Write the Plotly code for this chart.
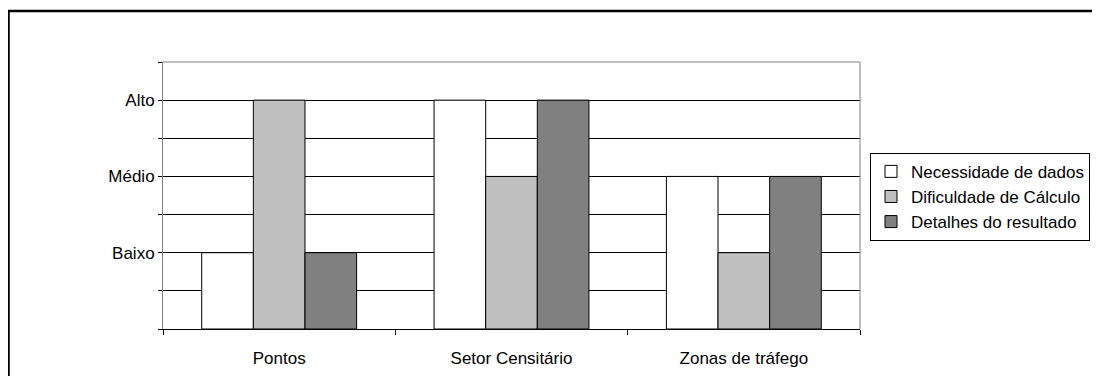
import plotly.graph_objects as go

categories = ["Pontos", "Setor Censitário", "Zonas de tráfego"]
series_names = ["Necessidade de dados", "Dificuldade de Cálculo", "Detalhes do resultado"]
necessidade = [1, 3, 2]
dificuldade = [3, 2, 1]
detalhes = [1, 3, 2]
series_values = [necessidade, dificuldade, detalhes]
series_colors = ["#FFFFFF", "#C0C0C0", "#808080"]

y_tickvals = [0, 0.5, 1, 1.5, 2, 2.5, 3, 3.5]
y_ticktext = ["", "", "Baixo", "", "Médio", "", "Alto", ""]

FONT = "Arial, Liberation Sans, sans-serif"
FS = 17

fig = go.Figure()
for name, vals, col in zip(series_names, series_values, series_colors):
    fig.add_trace(go.Bar(
        x=categories, y=vals, name=name,
        marker=dict(color=col, line=dict(color="#000000", width=1)),
    ))

# page body has an 8px margin; figure coordinates below are page - 8
W, H = 1092, 368
L, T = 155, 54
PR, PB = 852, 321.5
R, B = W - PR, H - PB
pw, ph = PR - L, PB - T


def px(xf):
    return (xf - L) / pw


def py(yf):
    return (PB - yf) / ph


fig.update_layout(
    width=W, height=H,
    margin=dict(l=L, r=R, t=T, b=B, pad=0, autoexpand=False),
    paper_bgcolor="white", plot_bgcolor="white",
    barmode="group", bargap=1/3, bargroupgap=0,
    font=dict(family=FONT, size=FS, color="#000000"),
    showlegend=True,
    legend=dict(
        x=px(862), y=py(145), xanchor="left", yanchor="top",
        bgcolor="white", bordercolor="#000000", borderwidth=1,
        font=dict(family=FONT, size=FS, color="#000000"),
        tracegroupgap=0, traceorder="normal",
    ),
    xaxis=dict(
        showline=True, linecolor="#000000", linewidth=1,
        ticks="outside", ticklen=5, tickcolor="#000000", tickson="boundaries",
        showgrid=False, ticklabelstandoff=14, automargin=False,
        tickfont=dict(family=FONT, size=FS, color="#000000"),
    ),
    yaxis=dict(
        range=[0, 3.5], tickvals=y_tickvals, ticktext=y_ticktext,
        showline=True, linecolor="#808080", linewidth=1,
        ticks="outside", ticklen=4, tickcolor="#000000", automargin=False,
        showgrid=True, gridcolor="#000000", gridwidth=1, zeroline=False,
        tickfont=dict(family=FONT, size=FS, color="#000000"),
    ),
    shapes=[
        dict(type="line", xref="paper", yref="paper", x0=0, x1=1, y0=1, y1=1,
             line=dict(color="#808080", width=1), layer="above"),
        dict(type="line", xref="paper", yref="paper", x0=1, x1=1, y0=0, y1=1,
             line=dict(color="#808080", width=1), layer="above"),
        dict(type="rect", xref="paper", yref="paper",
             x0=px(0.5), x1=px(W + 20), y0=py(H + 20), y1=py(3),
             line=dict(color="#000000", width=2.5), layer="above"),
    ],
)

fig.write_html("out.html")
